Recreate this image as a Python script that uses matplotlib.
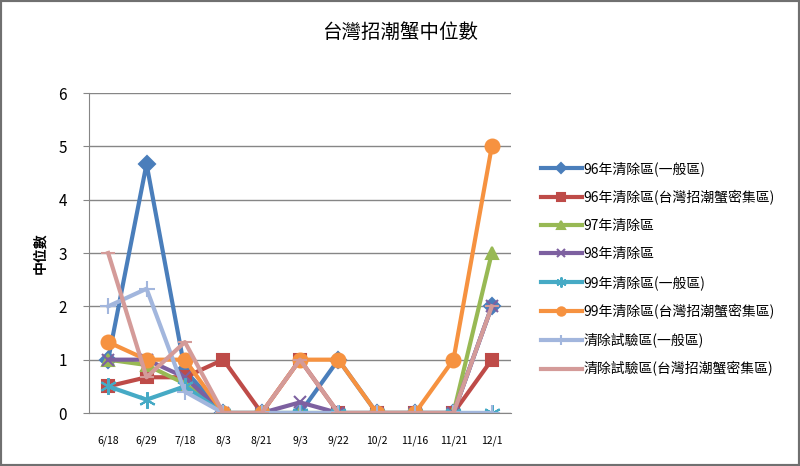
import numpy as np
import matplotlib
matplotlib.use("Agg")
from matplotlib import pyplot as plt
from matplotlib.patches import Rectangle

plt.rcParams['font.family'] = ['Noto Sans CJK TC', 'DejaVu Sans']

dates = ["6/18", "6/29", "7/18", "8/3", "8/21", "9/3", "9/22", "10/2", "11/16", "11/21", "12/1"]

names = [
    "96年清除區(一般區)",
    "96年清除區(台灣招潮蟹密集區)",
    "97年清除區",
    "98年清除區",
    "99年清除區(一般區)",
    "99年清除區(台灣招潮蟹密集區)",
    "清除試驗區(一般區)",
    "清除試驗區(台灣招潮蟹密集區)",
]

s96_general = [1, 4.67, 0.8, 0, 0, 0, 1, 0, 0, 0, 2]
s96_dense = [0.5, 0.67, 0.67, 1, 0, 1, 0, 0, 0, 0, 1]
s97 = [1, 0.9, 0.55, 0, 0, 0, 0, 0, 0, 0, 3]
s98 = [1, 1, 0.67, 0, 0, 0.2, 0, 0, 0, 0, 2]
s99_general = [0.5, 0.25, 0.5, 0, 0, 0, 0, 0, 0, 0, 0]
s99_dense = [1.33, 1, 1, 0, 0, 1, 1, 0, 0, 1, 5]
trial_general = [2, 2.33, 0.4, 0, 0, 0, 0, 0, 0, 0, 0]
trial_dense = [3, 0.67, 1.33, 0, 0, 1, 0, 0, 0, 0, 2]

series = [s96_general, s96_dense, s97, s98, s99_general, s99_dense, trial_general, trial_dense]
colors = ["#4A7EBB", "#BE4B48", "#98B954", "#7D60A0", "#46AAC5", "#F69240", "#A2B6DD", "#D49B99"]
markers = ["D", "s", "^", "x", (6, 2, 0), "o", "+", "_"]
msizes = [8, 9, 9, 9, 12, 10, 12, 10]

fig = plt.figure(figsize=(8, 4.66), dpi=100)
ax = fig.add_axes([89 / 800, 1 - 413 / 466, (511 - 89) / 800, (413 - 93) / 466])

x = np.arange(len(dates))
for vals, name, c, m, ms in zip(series, names, colors, markers, msizes):
    ax.plot(x, vals, color=c, marker=m, markersize=ms, linewidth=3,
            markeredgewidth=1.5, markeredgecolor=c, label=name)

ax.set_xlim(-0.5, len(dates) - 0.5)
ax.set_ylim(0, 6)
ax.set_yticks(range(0, 7))
ax.set_xticks(x)
ax.set_xticklabels(dates, fontsize=7.5)
ax.tick_params(axis='x', length=0, pad=16)
ax.tick_params(axis='y', length=4, color="#868686", labelsize=11, pad=12)
ax.yaxis.grid(True, color="#868686", linewidth=1)
ax.set_axisbelow(True)
for side in ["top", "right"]:
    ax.spines[side].set_visible(False)
ax.spines["left"].set_color("#868686")
ax.spines["bottom"].set_color("#868686")
ax.set_ylabel("中位數", fontsize=10, fontweight="bold", labelpad=8)

fig.text(0.5, 1 - 32 / 466, "台灣招潮蟹中位數", ha="center", va="center",
         fontsize=14, fontweight="medium")

handles, labels = ax.get_legend_handles_labels()
leg = fig.legend(handles, labels, loc="upper left", bbox_to_anchor=(528 / 800, 1 - 149 / 466),
                 frameon=False, fontsize=10, handlelength=3.0, handletextpad=0.1,
                 labelspacing=1.0, markerscale=0.6)

fig.patches.append(Rectangle((0, 0), 1, 1, transform=fig.transFigure, fill=False,
                             edgecolor="#707070", linewidth=3))

fig.savefig("out.png", dpi=100)
